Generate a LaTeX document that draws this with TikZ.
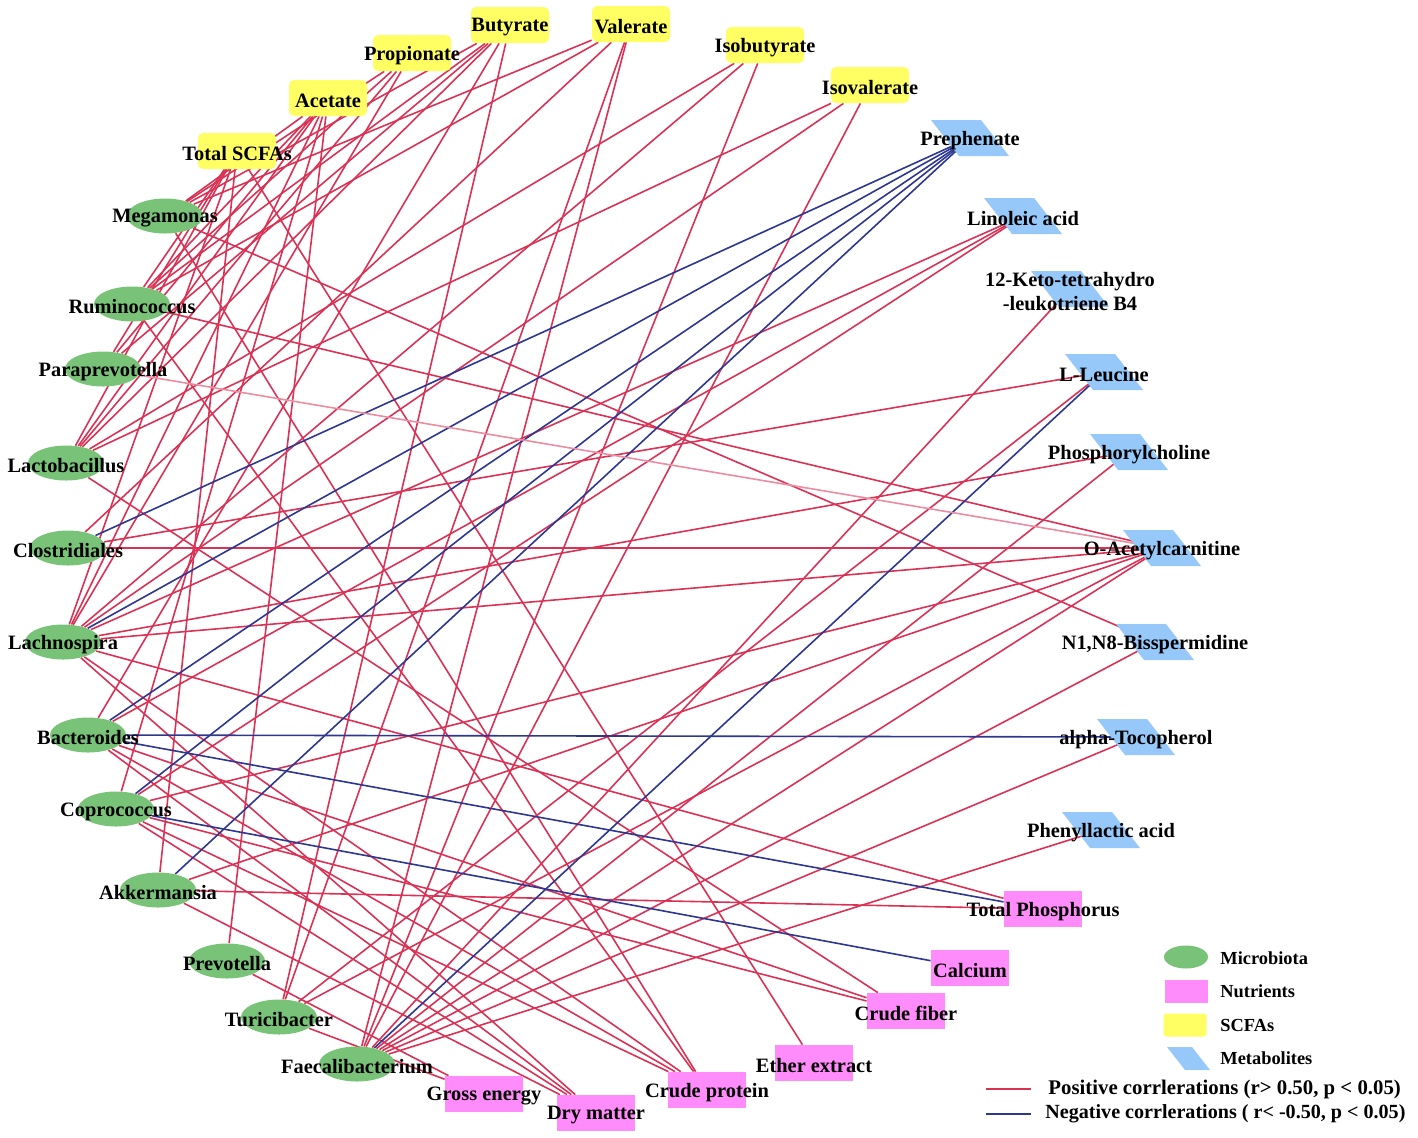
\documentclass[tikz,border=0pt]{standalone}
\usepackage{fontspec}
\setmainfont{Liberation Serif}
\usetikzlibrary{shapes.geometric}
\definecolor{microG}{RGB}{120,195,120}
\definecolor{nutP}{RGB}{255,140,250}
\definecolor{scfaY}{RGB}{255,255,100}
\definecolor{metaB}{RGB}{150,200,250}
\definecolor{posR}{RGB}{218,50,85}
\definecolor{negB}{RGB}{45,55,145}
\definecolor{weakP}{RGB}{235,140,160}
\pgfdeclarelayer{edgelayer}
\pgfsetlayers{edgelayer,main}
\newcommand\metanode[4]{%
  \fill[metaB] (#2-39,#3-18) -- (#2+11,#3-18) -- (#2+39,#3+18) -- (#2-11,#3+18) -- cycle;
  \node[metc, label={[lab,align=center]center:{#4}}] (#1) at (#2,#3) {};}
\begin{document}
\begin{tikzpicture}[x=0.5pt,y=-0.5pt,
  micro/.style={ellipse, fill=microG, minimum width=38pt, minimum height=17.5pt, inner sep=0pt},
  nutr/.style={rectangle, fill=nutP, minimum width=39pt, minimum height=18pt, inner sep=0pt},
  scfa/.style={rectangle, rounded corners=2.5pt, fill=scfaY, minimum width=39pt, minimum height=18pt, inner sep=0pt},
  metc/.style={inner sep=0pt, minimum size=1pt},
  lab/.style={font=\bfseries\fontsize{10.2}{12}\selectfont, inner sep=0pt, yshift=-1.2pt},
  leglab/.style={font=\bfseries\fontsize{9.2}{11}\selectfont, inner sep=0pt, anchor=west},
  corlab/.style={font=\bfseries\fontsize{10.4}{12}\selectfont, inner sep=0pt, anchor=west},
  posE/.style={draw=posR, line width=0.8pt},
  negE/.style={draw=negB, line width=0.8pt},
  weakE/.style={draw=weakP, line width=0.8pt}]
\useasboundingbox (0,0) rectangle (1418,1137);

% SCFAs
\node[scfa, label={[lab]center:Total SCFAs}] (tot) at (237,151) {};
\node[scfa, label={[lab]center:Acetate}] (ace) at (328,98) {};
\node[scfa, label={[lab]center:Propionate}] (pro) at (412,53) {};
\node[scfa, label={[lab]center:Butyrate}] (but) at (510,25) {};
\node[scfa, label={[lab]center:Valerate}] (val) at (631,24) {};
\node[scfa, label={[lab]center:Isobutyrate}] (ibu) at (765,45) {};
\node[scfa, label={[lab]center:Isovalerate}] (iva) at (870,85) {};

% Metabolites
\metanode{preph}{970}{138}{Prephenate}
\metanode{lino}{1023}{216}{Linoleic acid}
\metanode{keto}{1070}{289}{12-Keto-tetrahydro\\-leukotriene B4}
\metanode{leu}{1104}{372}{L-Leucine}
\metanode{phos}{1129}{452}{Phosphorylcholine}
\metanode{oacet}{1162}{548}{O-Acetylcarnitine}
\metanode{bis}{1155}{642}{N1,N8-Bisspermidine}
\metanode{toc}{1136}{737}{alpha-Tocopherol}
\metanode{phen}{1101}{830}{Phenyllactic acid}

% Microbiota
\node[micro, label={[lab]center:Megamonas}] (mega) at (165,216) {};
\node[micro, label={[lab]center:Ruminococcus}] (rumi) at (132,304) {};
\node[micro, label={[lab]center:Paraprevotella}] (para) at (103,369) {};
\node[micro, label={[lab]center:Lactobacillus}] (lacto) at (66,463) {};
\node[micro, label={[lab]center:Clostridiales}] (clos) at (68,548) {};
\node[micro, label={[lab]center:Lachnospira}] (lach) at (63,642) {};
\node[micro, label={[lab]center:Bacteroides}] (bact) at (88,735) {};
\node[micro, label={[lab]center:Coprococcus}] (copr) at (116,809) {};
\node[micro, label={[lab]center:Akkermansia}] (akk) at (158,890) {};
\node[micro, label={[lab]center:Prevotella}] (prev) at (227,961) {};
\node[micro, label={[lab]center:Turicibacter}] (turi) at (279,1017) {};
\node[micro, label={[lab]center:Faecalibacterium}] (faec) at (357,1064) {};

% Nutrients
\node[nutr, label={[lab]center:Gross energy}] (gross) at (484,1094) {};
\node[nutr, label={[lab]center:Dry matter}] (dry) at (596,1113) {};
\node[nutr, label={[lab]center:Crude protein}] (cprot) at (707,1090) {};
\node[nutr, label={[lab]center:Ether extract}] (ether) at (814,1063) {};
\node[nutr, label={[lab]center:Crude fiber}] (cfib) at (906,1011) {};
\node[nutr, label={[lab]center:Calcium}] (calc) at (970,968) {};
\node[nutr, label={[lab]center:Total Phosphorus}] (tphos) at (1043,909) {};

% Edges
\begin{pgfonlayer}{edgelayer}
\foreach \a/\b in {tot/rumi, tot/para, tot/lacto, tot/lach, tot/akk, tot/ether,
  ace/mega, ace/rumi, ace/para, ace/lacto, ace/lach, ace/prev, ace/copr,
  pro/mega, pro/rumi, pro/lacto, pro/lach,
  but/mega, but/rumi, but/para, but/lacto, but/bact, but/turi,
  val/mega, val/rumi, val/clos, val/turi, val/faec,
  ibu/lacto, ibu/lach, ibu/faec,
  iva/lacto, iva/lach, iva/faec,
  lino/lach, lino/bact, lino/copr,
  keto/faec, leu/clos, leu/turi, phos/lach, phos/faec,
  oacet/rumi, oacet/clos, oacet/lach, oacet/copr, oacet/akk, oacet/turi, oacet/faec,
  bis/mega, bis/faec, toc/faec, phen/faec,
  gross/prev, gross/turi,
  dry/lach, dry/bact, dry/copr, dry/akk,
  cprot/mega, cprot/rumi, cprot/lach, cprot/bact, cprot/copr,
  cfib/lacto, cfib/bact, cfib/copr,
  tphos/lach, tphos/akk}
  \draw[posE] (\a) -- (\b);
\foreach \a/\b in {preph/clos, preph/lach, preph/bact, preph/copr, preph/akk,
  leu/faec, toc/bact, tphos/bact, calc/copr}
  \draw[negE] (\a) -- (\b);
\draw[weakE] (oacet) -- (para);
\end{pgfonlayer}

% Legend
\node[micro, minimum width=22pt, minimum height=11.5pt] (legm) at (1186,957) {};
\node[nutr, minimum width=21.5pt, minimum height=11.5pt] (legn) at (1186,991) {};
\node[scfa, rounded corners=1.5pt, minimum width=21.5pt, minimum height=11.5pt] (legs) at (1185,1025) {};
\fill[metaB] (1167,1047) -- (1192,1047) -- (1210,1070) -- (1185,1070) -- cycle;
\node[metc] (legb) at (1189,1058) {};
\node[leglab] (tm) at (1220,958) {Microbiota};
\node[leglab] (tn) at (1220,991) {Nutrients};
\node[leglab] (ts) at (1220,1025) {SCFAs};
\node[leglab] (tb) at (1220,1058) {Metabolites};
\coordinate (pr1) at (986,1089);
\coordinate (pr2) at (1031,1089);
\coordinate (nb1) at (986,1114);
\coordinate (nb2) at (1031,1114);
\draw[posE] (pr1) -- (pr2);
\draw[negE] (nb1) -- (nb2);
\node[corlab] (tpos) at (1048,1089) {Positive corrlerations (r> 0.50, p < 0.05)};
\node[corlab, font=\bfseries\fontsize{10.05}{12}\selectfont] (tneg) at (1045,1114) {Negative corrlerations ( r< -0.50, p < 0.05)};
\end{tikzpicture}
\end{document}
